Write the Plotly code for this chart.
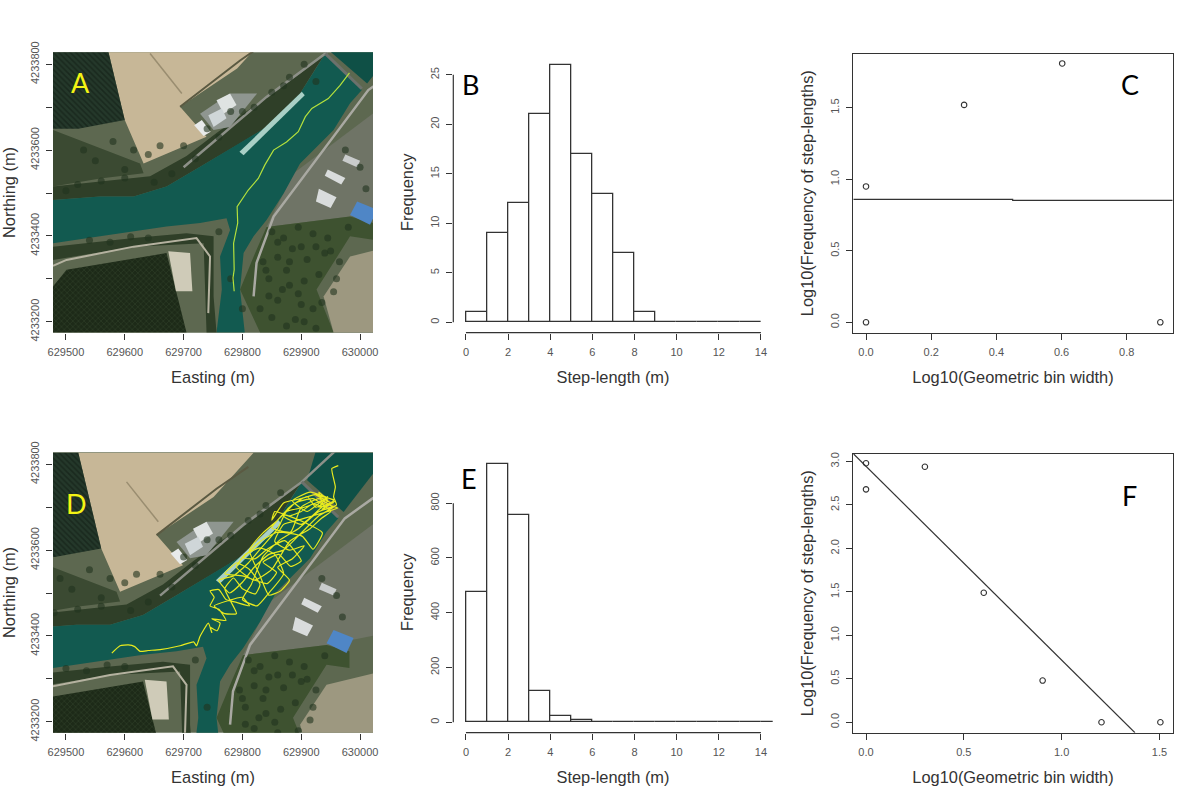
import plotly.graph_objects as go

# ---------- chart data ----------
bin_mid_b = [0.5, 1.5, 2.5, 3.5, 4.5, 5.5, 6.5, 7.5, 8.5, 9.5, 10.5, 11.5, 12.5, 13.5]
freq_b = [1, 9, 12, 21, 26, 17, 13, 7, 1, 0, 0, 0, 0, 0]
bin_mid_e = [0.5, 1.5, 2.5, 3.5, 4.5, 5.5, 6.5, 7.5, 8.5, 9.5, 10.5, 11.5, 12.5, 13.5, 14.5]
freq_e = [476, 943, 757, 116, 23, 8, 0, 0, 0, 0, 0, 0, 0, 0, 0]

log_w_c = [0.0, 0.0, 0.301, 0.602, 0.903]
log_f_c = [0.0, 0.95, 1.52, 1.81, 0.0]
fit_x_c = [-0.039, 0.45, 0.45, 0.941]
fit_y_c = [0.86, 0.86, 0.853, 0.853]

log_w_f = [0.0, 0.0, 0.301, 0.602, 0.903, 1.204, 1.505]
log_f_f = [2.98, 2.68, 2.94, 1.49, 0.48, 0.0, 0.0]
fit_x_f = [-0.065, 1.375]
fit_y_f = [3.09, -0.12]

# ---------- geography: metres east of 629000 / north of 4233000, frame of panel A ----------
E0, N0 = 629000, 4233000
SHIFT_D = (-40, -66)

ground_e = [400, 1120, 1120, 400]
ground_n = [100, 100, 950, 950]
field_e = [561, 859, 791, 694, 739, 632, 600]
field_n = [893, 893, 790, 701, 631, 569, 670]
orchard_nw_e = [430, 561, 600, 521, 430]
orchard_nw_n = [893, 893, 670, 650, 650]
orchard_w_e = [478, 626, 632, 558, 478]
orchard_w_n = [647, 569, 546, 534, 515]
bank_n_e = [478, 558, 643, 705, 756, 841, 898, 941, 926, 898, 841, 796, 728, 671, 615, 558, 478]
bank_n_n = [515, 527, 539, 586, 640, 724, 778, 825, 794, 732, 654, 616, 561, 515, 492, 492, 484]
complex_e = [728, 779, 825, 779, 751]
complex_n = [685, 732, 732, 654, 647]
roof1_e = [756, 779, 790, 768]
roof1_n = [716, 732, 705, 685]
roof2_e = [742, 765, 773, 751]
roof2_n = [681, 697, 674, 654]
roof3_e = [718, 731, 746, 734]
roof3_n = [658, 670, 643, 633]
pier_e = [795, 901, 906, 802]
pier_n = [596, 736, 728, 588]
river_e = [478, 558, 615, 671, 728, 796, 841, 898, 926, 941, 1003, 983, 955, 898, 870, 841, 819, 802, 796, 804,
           756, 765, 762, 779, 773, 728, 671, 615, 558, 478]
river_n = [484, 492, 492, 515, 561, 616, 654, 732, 794, 825, 740, 709, 647, 569, 499, 437, 399, 360, 275, 175,
           175, 275, 352, 414, 441, 430, 422, 410, 399, 383]
reservoir_e = [950, 964, 1062, 1062, 1012]
reservoir_n = [829, 893, 893, 844, 755]
dam_e = [941, 1003]
dam_n = [825, 743]
orchard_s_e = [501, 671, 705, 478, 478]
orchard_s_n = [321, 360, 175, 175, 282]
lot_e = [674, 711, 715, 687]
lot_n = [364, 360, 271, 271]
bank_s_e = [478, 615, 705, 751, 751, 756, 739, 734, 615, 478]
bank_s_n = [375, 395, 406, 399, 259, 175, 175, 383, 375, 344]
farm_road_e = [478, 501, 615, 722, 745, 742]
farm_road_n = [330, 344, 375, 395, 352, 220]
forest_e = [841, 983, 1022, 1022, 983, 926, 955, 830, 796, 824]
forest_n = [421, 445, 430, 391, 399, 275, 175, 175, 275, 368]
bare_e = [983, 1075, 1075, 955, 938]
bare_n = [352, 383, 175, 175, 259]
town_e = [887, 1075, 1075, 983, 841]
town_n = [546, 740, 470, 445, 421]
blue_e = [995, 1029, 1017, 983]
blue_n = [480, 461, 426, 449]
shed1_e = [930, 960, 950, 925]
shed1_n = [510, 490, 465, 480]
shed2_e = [945, 975, 968, 940]
shed2_n = [555, 535, 520, 540]
shed3_e = [975, 1000, 995, 970]
shed3_n = [590, 575, 560, 575]
east_road_e = [1075, 1014, 853, 824, 819]
east_road_n = [800, 740, 445, 337, 259]
north_road_e = [1000, 941, 841, 762, 700]
north_road_n = [900, 825, 724, 631, 560]
ditch_e = [694, 796, 850]
ditch_n = [701, 809, 860]
track_line_e = [643, 697]
track_line_n = [825, 732]
clump_e = [850, 870, 895, 920, 945, 860, 885, 910, 940, 965, 845, 875, 905, 930, 960, 830, 860, 890, 920,
           650, 680, 720, 760, 800, 850, 880, 600, 560, 520, 760, 780, 800, 1000, 1010, 975,
           860, 880, 900, 925, 950, 840, 868, 895, 850, 875, 900, 935, 955, 980, 905, 925, 880, 845, 835,
           500, 530, 550, 580, 600, 615, 640, 660, 700, 740, 780, 820, 870, 905, 925, 540, 575, 610, 640]
clump_n = [410, 395, 420, 405, 395, 350, 370, 345, 360, 340, 300, 320, 295, 310, 300, 230, 250, 205, 230,
           525, 545, 580, 630, 690, 735, 770, 535, 528, 520, 410, 300, 230, 560, 510, 600,
           385, 340, 375, 375, 365, 320, 275, 265, 210, 190, 240, 245, 270, 420, 200, 185, 285, 260, 340,
           505, 600, 575, 620, 555, 600, 590, 610, 610, 650, 690, 700, 750, 800, 760, 390, 385, 398, 395]

track_a_e = [982, 966, 946, 918, 907, 895, 875, 853, 838, 827, 810, 795, 791, 792, 785, 786, 784, 786]
track_a_n = [780, 751, 720, 697, 678, 643, 619, 600, 565, 534, 507, 476, 468, 430, 383, 321, 302, 271]

track_d_e = [578, 592, 606, 617, 626, 640, 660, 694, 717, 722, 728, 742, 748, 745, 757, 762, 748, 772, 760, 745,
             752, 745, 760, 772, 790, 812, 800, 775, 752, 770, 790, 770, 785, 800, 822, 830, 812, 790, 770, 800,
             842, 858, 835, 862, 882, 900, 872, 842, 822, 802, 832, 860, 902, 920, 936, 905, 870, 850, 882, 900,
             930, 950, 962, 945, 920, 895, 870, 855, 880, 905, 885, 860, 880, 865, 845, 830, 812, 835, 860, 880,
             910, 925, 945, 930, 938, 955, 940, 920, 900, 880, 855, 850, 870, 900, 925, 945,
             905, 875, 860, 835, 810, 785, 760, 778, 800, 820, 845, 870, 900, 930, 955, 930, 895, 865, 835, 815,
             800, 825, 845, 870, 855, 830, 805, 790, 820, 850, 880, 915, 935, 950, 920, 890, 870, 900, 935, 955,
             915, 885, 910, 945, 930, 950, 925, 958, 935, 960, 955, 958, 952, 963]
track_d_n = [360, 377, 379, 375, 364, 366, 368, 377, 386, 377, 399, 430, 408, 420, 412, 430, 440, 436, 462, 470,
             490, 505, 508, 485, 478, 470, 490, 482, 470, 452, 452, 510, 535, 510, 498, 520, 555, 570, 545, 540,
             522, 548, 572, 590, 562, 575, 622, 602, 580, 582, 622, 642, 632, 602, 640, 665, 682, 652, 642, 700,
             720, 704, 698, 690, 680, 670, 660, 620, 600, 610, 580, 560, 530, 505, 495, 540, 600, 640, 670, 700,
             725, 700, 715, 735, 705, 712, 700, 708, 690, 680, 690, 670, 710, 720, 730, 722,
             700, 690, 650, 610, 570, 540, 530, 500, 525, 560, 590, 600, 640, 680, 700, 690, 650, 625, 585, 520,
             485, 470, 500, 545, 590, 605, 590, 560, 530, 555, 620, 650, 675, 690, 720, 710, 680, 660, 700, 715,
             735, 715, 690, 725, 700, 710, 728, 715, 695, 705, 724, 747, 790, 797]

# ---------- tick lists ----------
east_ticks = [629500, 629600, 629700, 629800, 629900, 630000]
north_ticks = [4233200, 4233300, 4233400, 4233500, 4233600, 4233700, 4233800]
north_labels = ["4233200", "", "4233400", "", "4233600", "", "4233800"]
step_ticks = [0, 2, 4, 6, 8, 10, 12, 14]
freq_ticks_b = [0, 5, 10, 15, 20, 25]
freq_ticks_e = [0, 200, 400, 600, 800]
log_ticks_c_x = ["0.0", "0.2", "0.4", "0.6", "0.8"]
log_ticks_c_y = ["0.0", "0.5", "1.0", "1.5"]
log_ticks_f_x = ["0.0", "0.5", "1.0", "1.5"]
log_ticks_f_y = ["0.0", "0.5", "1.0", "1.5", "2.0", "2.5", "3.0"]

# ---------- drawing ----------
W, H = 1200, 800
INK = "#333333"
TICK = "#555555"
FONT = "Liberation Sans"
fig = go.Figure()


def poly(e, n, color, ax, shift, pattern=None):
    fig.add_trace(go.Scatter(
        x=[E0 + v + shift[0] for v in e], y=[N0 + v + shift[1] for v in n],
        mode="lines", fill="toself", fillcolor=color, line=dict(width=0),
        fillpattern=pattern, xaxis=ax[0], yaxis=ax[1], showlegend=False, hoverinfo="skip"))


def path(e, n, color, width, ax, shift, smooth=False):
    line = dict(color=color, width=width)
    if smooth:
        line.update(shape="spline", smoothing=0.45)
    fig.add_trace(go.Scatter(
        x=[E0 + v + shift[0] for v in e], y=[N0 + v + shift[1] for v in n],
        mode="lines", line=line,
        xaxis=ax[0], yaxis=ax[1], showlegend=False, hoverinfo="skip"))


def draw_map(ax, shift):
    poly(ground_e, ground_n, "#5d6850", ax, shift)
    poly(field_e, field_n, "#c7b797", ax, shift)
    poly(town_e, town_n, "#6f7466", ax, shift)
    poly(forest_e, forest_n, "#3e5230", ax, shift)
    poly(bare_e, bare_n, "#9d9880", ax, shift)
    poly(orchard_nw_e, orchard_nw_n, "#1a2b1e", ax, shift,
         dict(shape="\\", fgcolor="#0f1a12", bgcolor="#24382a", size=4, solidity=0.4))
    poly(orchard_w_e, orchard_w_n, "#3b4a32", ax, shift)
    poly(bank_n_e, bank_n_n, "#2f3f28", ax, shift)
    poly(complex_e, complex_n, "#8f9690", ax, shift)
    poly(roof1_e, roof1_n, "#dfe3e2", ax, shift)
    poly(roof2_e, roof2_n, "#cfd6d8", ax, shift)
    poly(roof3_e, roof3_n, "#e8eaea", ax, shift)
    poly(river_e, river_n, "#125a50", ax, shift)
    poly(reservoir_e, reservoir_n, "#0f5046", ax, shift)
    poly(pier_e, pier_n, "#a9d0c6", ax, shift)
    poly(orchard_s_e, orchard_s_n, "#27361f", ax, shift,
         dict(shape="x", fgcolor="#3d4d33", bgcolor="#1d2a18", size=4, solidity=0.3))
    poly(lot_e, lot_n, "#cfcbb8", ax, shift)
    poly(bank_s_e, bank_s_n, "#2f3f28", ax, shift)
    poly(blue_e, blue_n, "#4f86c6", ax, shift)
    poly(shed1_e, shed1_n, "#d9dcdc", ax, shift)
    poly(shed2_e, shed2_n, "#d9dcdc", ax, shift)
    poly(shed3_e, shed3_n, "#c9cccc", ax, shift)
    path(farm_road_e, farm_road_n, "#b5b2a0", 2, ax, shift)
    path(east_road_e, east_road_n, "#a9a9a2", 2.5, ax, shift)
    path(north_road_e, north_road_n, "#8d9088", 2.5, ax, shift)
    path(dam_e, dam_n, "#6c716c", 3, ax, shift)
    path(ditch_e, ditch_n, "#5b5a42", 2, ax, shift)
    path(track_line_e, track_line_n, "#9a8d70", 1.5, ax, shift)
    fig.add_trace(go.Scatter(
        x=[E0 + v + shift[0] for v in clump_e], y=[N0 + v + shift[1] for v in clump_n],
        mode="markers", marker=dict(color="#22331e", size=7, opacity=0.6),
        xaxis=ax[0], yaxis=ax[1], showlegend=False, hoverinfo="skip"))


draw_map(("x", "y"), (0, 0))
path(track_a_e, track_a_n, "#b4e03c", 1.2, ("x", "y"), (0, 0))
draw_map(("x4", "y4"), SHIFT_D)
path(track_d_e, track_d_n, "#e8ea1e", 1.2, ("x4", "y4"), (0, 0), smooth=True)

for mid, freq, ax in ((bin_mid_b, freq_b, ("x2", "y2")), (bin_mid_e, freq_e, ("x5", "y5"))):
    fig.add_trace(go.Bar(x=mid, y=freq, width=1, marker=dict(color="white", line=dict(color=INK, width=1.3)),
                         xaxis=ax[0], yaxis=ax[1], showlegend=False, hoverinfo="skip"))

for wx, fy, lx, ly, ax in ((log_w_c, log_f_c, fit_x_c, fit_y_c, ("x3", "y3")),
                           (log_w_f, log_f_f, fit_x_f, fit_y_f, ("x6", "y6"))):
    fig.add_trace(go.Scatter(x=lx, y=ly, mode="lines", line=dict(color=INK, width=1.2),
                             xaxis=ax[0], yaxis=ax[1], showlegend=False, hoverinfo="skip"))
    fig.add_trace(go.Scatter(x=wx, y=fy, mode="markers",
                             marker=dict(symbol="circle-open", size=5.5, color=INK, line=dict(width=1.1)),
                             xaxis=ax[0], yaxis=ax[1], showlegend=False, hoverinfo="skip"))


def dom_x(a, b):
    return [a / W, b / W]


def dom_y(top, bottom):
    return [1 - bottom / H, 1 - top / H]


def axis(title, domain, rng, vals, text, anchor, standoff, box=False, angle=None):
    d = dict(domain=domain, range=rng, tickmode="array", tickvals=vals, ticktext=text, anchor=anchor,
             ticks="outside", ticklen=6, tickwidth=1.1, tickcolor=INK, showgrid=False, zeroline=False,
             automargin=False, ticklabelstandoff=3, tickfont=dict(family=FONT, size=11, color=TICK),
             title=dict(text=title, font=dict(family=FONT, size=16.4, color=INK), standoff=standoff),
             showline=box, linecolor=INK, linewidth=1.2, mirror=box)
    if angle is not None:
        d["tickangle"] = angle
    return d


XL, XM, XR = (53, 373), (453.3, 772.7), (853.3, 1172.7)
east_txt = [str(v) for v in east_ticks]
step_txt = [str(v) for v in step_ticks]
layout = dict(
    width=W, height=H, margin=dict(l=0, r=0, t=0, b=0), paper_bgcolor="white", plot_bgcolor="white",
    barmode="overlay", bargap=0, showlegend=False,
    xaxis=axis("Easting (m)", dom_x(*XL), [629478, 630022], east_ticks, east_txt, "y", 14),
    yaxis=axis("Northing (m)", dom_y(52.3, 332.7), [4233174.4, 4233828], north_ticks, north_labels, "x", 15, angle=-90),
    xaxis4=axis("Easting (m)", dom_x(*XL), [629478, 630022], east_ticks, east_txt, "y4", 14),
    yaxis4=axis("Northing (m)", dom_y(452.3, 732.7), [4233174.4, 4233828], north_ticks, north_labels, "x4", 15, angle=-90),
    xaxis2=axis("Step-length (m)", dom_x(*XM), [-0.6, 14.56], step_ticks, step_txt, "y2", 14),
    yaxis2=axis("Frequency", dom_y(52, 332.7), [-1.05, 27.3], freq_ticks_b, [str(v) for v in freq_ticks_b], "x2", 11, angle=-90),
    xaxis5=axis("Step-length (m)", dom_x(*XM), [-0.6, 14.56], step_ticks, step_txt, "y5", 14),
    yaxis5=axis("Frequency", dom_y(452, 732.7), [-38, 987], freq_ticks_e, [str(v) for v in freq_ticks_e], "x5", 11, angle=-90),
    xaxis3=axis("Log10(Geometric bin width)", dom_x(*XR), [-0.039, 0.941], [float(v) for v in log_ticks_c_x], log_ticks_c_x, "y3", 14, box=True),
    yaxis3=axis("Log10(Frequency of step-lengths)", dom_y(53.7, 332.7), [-0.0727, 1.878], [float(v) for v in log_ticks_c_y], log_ticks_c_y, "x3", 11, box=True, angle=-90),
    xaxis6=axis("Log10(Geometric bin width)", dom_x(*XR), [-0.065, 1.568], [float(v) for v in log_ticks_f_x], log_ticks_f_x, "y6", 14, box=True),
    yaxis6=axis("Log10(Frequency of step-lengths)", dom_y(453.7, 732.7), [-0.12, 3.09], [float(v) for v in log_ticks_f_y], log_ticks_f_y, "x6", 11, box=True, angle=-90),
)

shapes = []
for n, xmax, ymax in ((2, 14, 25), (5, 14, 800)):
    line = dict(color=INK, width=1.2)
    shapes.append(dict(type="line", xref=f"x{n}", yref=f"y{n} domain", x0=0, x1=xmax, y0=0, y1=0, line=line))
    shapes.append(dict(type="line", xref=f"x{n} domain", yref=f"y{n}", x0=0, x1=0, y0=0, y1=ymax, line=line))
layout["shapes"] = shapes

letters = [("A", 80, 82, "#f4f414"), ("B", 470, 85, "black"), ("C", 1130, 85, "black"),
           ("D", 76, 503, "#f4f414"), ("E", 469, 478, "black"), ("F", 1129, 495, "black")]
layout["annotations"] = [dict(text=t, x=x / W, y=1 - y / H, xref="paper", yref="paper", showarrow=False,
                              xanchor="center", yanchor="middle",
                              font=dict(family="Lato", size=27, color=c)) for t, x, y, c in letters]

fig.update_layout(**layout)
fig.write_html("out.html", post_script="document.body.style.margin='0';", config={"displayModeBar": False})
